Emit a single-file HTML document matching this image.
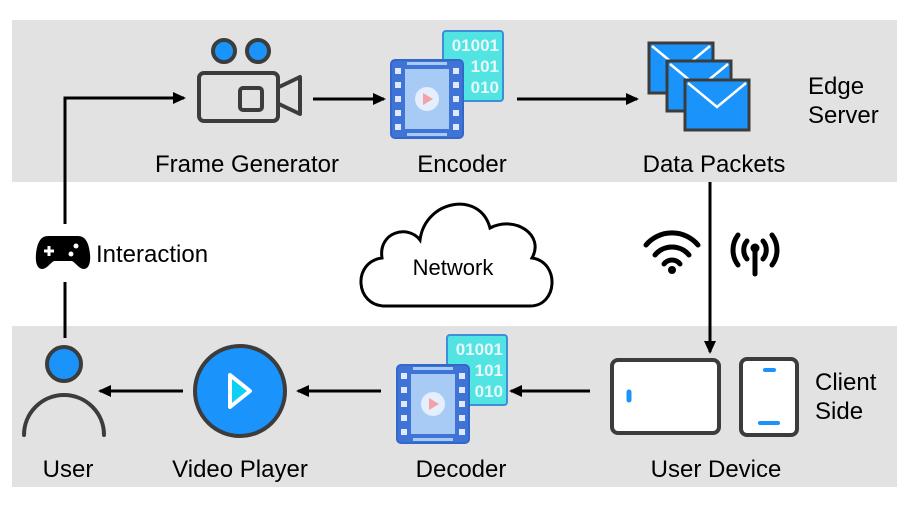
<!DOCTYPE html>
<html><head><style>body{margin:0;background:#fff}svg{display:block}text{font-family:"Liberation Sans",sans-serif;font-size:24px;fill:#000}</style></head><body>
<svg width="908" height="510" viewBox="0 0 908 510" xmlns="http://www.w3.org/2000/svg">
<defs><marker id="a" markerWidth="13" markerHeight="12" refX="11" refY="6" orient="auto" markerUnits="userSpaceOnUse"><path d="M0,0L13,6L0,12z" fill="#000"/></marker>
<g id="film"><rect x="0" y="0" width="72" height="78" rx="4" fill="#3f74d6" stroke="#3468c8" stroke-width="2"/>
<rect x="14" y="9" width="44" height="60" fill="#a8cbf6"/>
<rect x="16" y="2" width="40" height="3" fill="#a8cbf6"/><rect x="16" y="73" width="40" height="3" fill="#a8cbf6"/>
<g fill="#dfe9fb"><rect x="4" y="8" width="6" height="6"/><rect x="4" y="22" width="6" height="6"/><rect x="4" y="36" width="6" height="6"/><rect x="4" y="50" width="6" height="6"/><rect x="4" y="64" width="6" height="6"/>
<rect x="62" y="8" width="6" height="6"/><rect x="62" y="22" width="6" height="6"/><rect x="62" y="36" width="6" height="6"/><rect x="62" y="50" width="6" height="6"/><rect x="62" y="64" width="6" height="6"/></g>
<circle cx="36" cy="39" r="12" fill="#e4eefc"/><path d="M32,33L42,39L32,45z" fill="#f4a0a8"/></g>
<g id="bin"><rect x="0" y="0" width="60" height="70" rx="3" fill="#52e3e3" stroke="#3e8ed8" stroke-width="2"/>
<text x="56" y="20" text-anchor="end" style="font-weight:bold;font-size:17px;fill:#e8f8fa">01001</text><text x="56" y="41" text-anchor="end" style="font-weight:bold;font-size:17px;fill:#e8f8fa">101</text><text x="56" y="62" text-anchor="end" style="font-weight:bold;font-size:17px;fill:#e8f8fa">010</text></g>
<g id="env"><rect x="0" y="0" width="64" height="50" fill="#1a93fb" stroke="#3c3c3c" stroke-width="3"/><path d="M3,3L32,27L61,3" fill="none" stroke="#fff" stroke-width="2.5"/></g>
</defs>
<rect x="12" y="20" width="885" height="162" fill="#e2e2e2"/>
<rect x="12" y="326" width="885" height="161" fill="#e2e2e2"/>
<circle cx="224" cy="51" r="11" fill="#1a93fb" stroke="#3c3c3c" stroke-width="4"/>
<circle cx="258" cy="51" r="11" fill="#1a93fb" stroke="#3c3c3c" stroke-width="4"/>
<rect x="199" y="73" width="79" height="48" rx="5" fill="none" stroke="#3c3c3c" stroke-width="4"/>
<rect x="240" y="88" width="22" height="22" rx="3" fill="none" stroke="#3c3c3c" stroke-width="4"/>
<path d="M279,87L300,77L300,114L279,104" fill="none" stroke="#3c3c3c" stroke-width="4" stroke-linejoin="round"/>
<line x1="313" y1="99" x2="384" y2="99" stroke="#000" stroke-width="3" marker-end="url(#a)"/>
<use href="#bin" x="443" y="31"/><use href="#film" x="391" y="60"/>
<line x1="517" y1="99" x2="637" y2="99" stroke="#000" stroke-width="3" marker-end="url(#a)"/>
<use href="#env" x="649" y="43"/><use href="#env" x="667" y="61"/><use href="#env" x="685" y="80"/>
<text x="247" y="172" text-anchor="middle">Frame Generator</text>
<text x="462" y="172" text-anchor="middle">Encoder</text>
<text x="714" y="172" text-anchor="middle">Data Packets</text>
<text x="808" y="94">Edge</text><text x="808" y="123">Server</text>
<line x1="710" y1="182" x2="710" y2="352" stroke="#000" stroke-width="3" marker-end="url(#a)"/>
<g fill="none" stroke="#000" stroke-width="5" stroke-linecap="round">
<path d="M646,245A34,34 0 0 1 698,245"/><path d="M655,255A22,22 0 0 1 689,255"/><path d="M664,264A10,10 0 0 1 680,264"/>
<path d="M738,235A25,25 0 0 0 738,265"/><path d="M747,241A14,14 0 0 0 747,259"/><path d="M772,235A25,25 0 0 1 772,265"/><path d="M763,241A14,14 0 0 1 763,259"/>
<line x1="755" y1="250" x2="755" y2="274"/></g>
<circle cx="672" cy="270" r="4" fill="#000"/><circle cx="755" cy="248" r="4.5" fill="#000"/>
<path d="M385,306 C355,306 352,262 382,258 C378,232 408,224 420,240 C425,200 480,190 490,228 C515,215 545,235 532,258 C560,262 558,306 530,306 Z" fill="#fff" stroke="#000" stroke-width="3"/>
<text x="453" y="275" text-anchor="middle" style="font-size:22px">Network</text>
<path d="M65,338V282M65,224V98H184" fill="none" stroke="#000" stroke-width="3" marker-end="url(#a)"/>
<path d="M48,236h30c8,0 11,8 12,18c1,10-2,15-6,15c-5,0-8-6-12-8h-18c-4,2-7,8-12,8c-4,0-7-5-6-15c1-10 4-18 12-18z" fill="#000"/>
<path d="M49,246v10M44,251h10" stroke="#fff" stroke-width="3"/><circle cx="76" cy="246" r="2.5" fill="#fff"/><circle cx="71" cy="254" r="2.5" fill="#fff"/>
<text x="96" y="262">Interaction</text>
<circle cx="64" cy="364" r="17" fill="#1a93fb" stroke="#3c3c3c" stroke-width="4"/>
<path d="M24,435A40,40 0 0 1 104,435" fill="none" stroke="#3c3c3c" stroke-width="4" stroke-linecap="round"/>
<line x1="183" y1="391" x2="100" y2="391" stroke="#000" stroke-width="3" marker-end="url(#a)"/>
<circle cx="240" cy="391" r="45" fill="#1a93fb" stroke="#3c3c3c" stroke-width="4"/>
<path d="M230,375L250,391L230,407z" fill="#0ed0f2" stroke="#fff" stroke-width="4" stroke-linejoin="round"/>
<line x1="381" y1="391" x2="298" y2="391" stroke="#000" stroke-width="3" marker-end="url(#a)"/>
<use href="#bin" x="447" y="335"/><use href="#film" x="397" y="365"/>
<line x1="590" y1="391" x2="511" y2="391" stroke="#000" stroke-width="3" marker-end="url(#a)"/>
<rect x="612" y="360" width="107" height="73" rx="6" fill="#fff" stroke="#3c3c3c" stroke-width="4"/>
<line x1="629" y1="392" x2="629" y2="400" stroke="#1a93fb" stroke-width="5" stroke-linecap="round"/>
<rect x="741" y="359" width="56" height="76" rx="6" fill="#fff" stroke="#3c3c3c" stroke-width="4"/>
<line x1="765" y1="370" x2="774" y2="370" stroke="#1a93fb" stroke-width="4" stroke-linecap="round"/>
<line x1="760" y1="423" x2="778" y2="423" stroke="#1a93fb" stroke-width="4" stroke-linecap="round"/>
<text x="68" y="477" text-anchor="middle">User</text>
<text x="240" y="477" text-anchor="middle">Video Player</text>
<text x="461" y="477" text-anchor="middle">Decoder</text>
<text x="716" y="477" text-anchor="middle">User Device</text>
<text x="815" y="390">Client</text><text x="815" y="419">Side</text>
</svg></body></html>
